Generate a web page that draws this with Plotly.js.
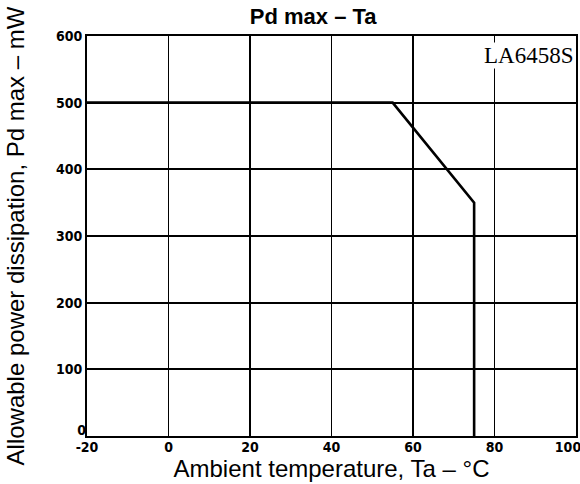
<!DOCTYPE html>
<html>
<head>
<meta charset="utf-8">
<script src="https://cdn.plot.ly/plotly-3.0.1.min.js"></script>
<style>html,body{margin:0;padding:0;background:#fff}#chart{width:580px;height:484px}</style>
</head>
<body>
<div id="chart"></div>
<script>
const temps = [-20, 55, 75, 75];
const pdMax = [500, 500, 350, 0];
const xTicks = [-20, 0, 20, 40, 60, 80];
const xTickEnd = [100];
const yTicks = [100, 200, 300, 400, 500, 600];
const yTickZero = [0];
const partName = "LA6458S";

const trace = {
  x: temps, y: pdMax, mode: 'lines', type: 'scatter',
  line: {color: '#000', width: 2.6}, hoverinfo: 'skip'
};
const ghost = {
  x: temps, y: pdMax, mode: 'lines', type: 'scatter', xaxis: 'x2', yaxis: 'y2',
  line: {color: 'rgba(0,0,0,0)', width: 0}, hoverinfo: 'skip'
};

const tickFont = {family: 'DejaVu Sans Condensed, DejaVu Sans', size: 14, color: '#000', weight: 700};
const titleFont = {family: 'Liberation Sans, Arial', size: 24, color: '#000'};

const layout = {
  width: 580, height: 484,
  margin: {l: 87, r: 4, t: 36, b: 48},
  paper_bgcolor: '#fff', plot_bgcolor: '#fff',
  showlegend: false,
  title: {text: 'Pd max – Ta', font: {family: 'Liberation Sans, Arial', size: 22, color: '#000', weight: 700}, x: 0.54, xanchor: 'center', yref: 'container', y: 0.982, yanchor: 'top'},
  xaxis: {
    range: [-20, 100], tickvals: xTicks, ticktext: xTicks.map(String),
    showgrid: true, gridcolor: '#000', gridwidth: 1.5,
    showline: true, linecolor: '#000', linewidth: 2, mirror: true,
    zeroline: false, ticks: '', tickfont: tickFont,
    ticklabelstandoff: -3,
    title: {text: 'Ambient temperature, Ta – °C', font: titleFont, standoff: 0}
  },
  xaxis2: {
    overlaying: 'x', anchor: 'y', side: 'bottom', range: [-20, 100],
    tickvals: xTickEnd, ticktext: xTickEnd.map(String),
    showgrid: false, showline: false, zeroline: false, ticks: '',
    tickfont: tickFont, ticklabelshift: -8, ticklabelstandoff: 1, ticklabeloverflow: 'allow'
  },
  yaxis: {
    range: [0, 600], tickvals: yTicks, ticktext: yTicks.map(String),
    showgrid: true, gridcolor: '#000', gridwidth: 2,
    showline: true, linecolor: '#000', linewidth: 2, mirror: true,
    zeroline: false, ticks: '', tickfont: tickFont, ticklabelstandoff: 0,
    title: {text: 'Allowable power dissipation, Pd max – mW', font: titleFont, standoff: 25}
  },
  yaxis2: {
    overlaying: 'y', anchor: 'x', side: 'left', range: [0, 600],
    tickvals: yTickZero, ticktext: yTickZero.map(String),
    showgrid: false, showline: false, zeroline: false, ticks: '',
    tickfont: tickFont, ticklabelshift: -6, ticklabelstandoff: 0
  },
  annotations: [{
    text: partName, xref: 'paper', yref: 'paper', x: 0.996, y: 0.985,
    xanchor: 'right', yanchor: 'top', showarrow: false,
    font: {family: 'Liberation Serif, DejaVu Serif', size: 23, color: '#000'},
    bgcolor: '#fff', borderpad: 0
  }]
};

Plotly.newPlot('chart', [trace, ghost], layout, {displayModeBar: false, staticPlot: true});
</script>
</body>
</html>
